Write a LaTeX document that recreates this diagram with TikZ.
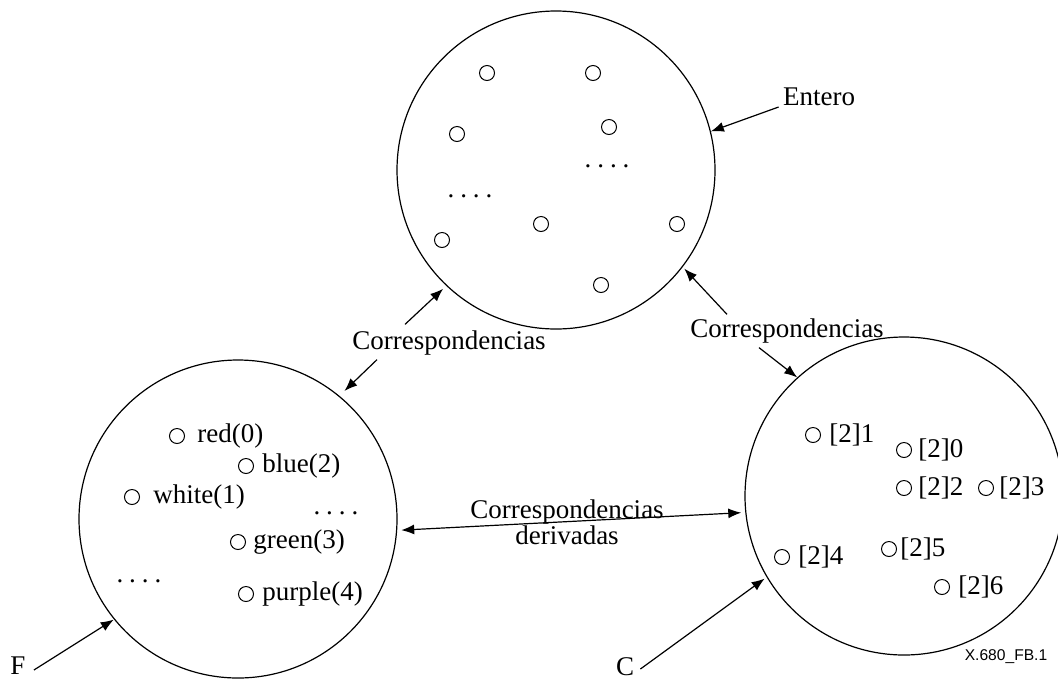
\documentclass[tikz,border=0pt]{standalone}
\usepackage{fontspec}
\setmainfont{Liberation Serif}
\newfontfamily\tagfont{Liberation Sans}
\usetikzlibrary{arrows.meta, positioning}
\tikzset{
    setcircle/.style = {circle, draw, line width=0.6pt, inner sep=0pt, minimum size=159pt},
    elem/.style = {circle, draw, line width=0.5pt, inner sep=0pt, minimum size=7.5pt},
    elemtext/.style = {anchor=west, inner sep=0pt, font=\fontsize{13.5}{12}\selectfont},
    lbl/.style = {inner sep=1pt, font=\fontsize{13.5}{12}\selectfont, align=center},
    dots/.style = {inner sep=0pt, font=\fontsize{13.5}{12}\selectfont},
    arr/.style = {draw, line width=0.6pt, -{Latex[length=6.5pt,width=5pt]}},
    darr/.style = {draw, line width=0.6pt, {Latex[length=6.5pt,width=5pt]}-{Latex[length=6.5pt,width=5pt]}}
}
\begin{document}
\begin{tikzpicture}[x=0.5pt, y=-0.5pt]
        \useasboundingbox (0,0) rectangle (1058,681);
        % Sets
        \node [setcircle] (entero) at (556,170) {};
        \node [setcircle] (fset) at (238,519) {};
        \node [setcircle] (cset) at (904,496) {};

        % Elements of Entero
        \foreach \x/\y [count=\i] in {487/73, 593/73, 457/134, 609/127, 541/224, 677/224, 442/240, 601/285}
            \node [elem] (e\i) at (\x,\y) {};
        \node [dots] (edotsA) at (607,166) {.\hspace{3pt}.\hspace{3pt}.\hspace{3pt}.};
        \node [dots] (edotsB) at (470,196) {.\hspace{3pt}.\hspace{3pt}.\hspace{3pt}.};

        % Elements of F
        \foreach \x/\y/\tx/\t [count=\i] in {177/436/197/red(0), 246/466/262/blue(2), 132/497/153/white(1), 238/542/253/green(3), 246/594/262/purple(4)} {
            \node [elem] (f\i) at (\x,\y) {};
            \node [elemtext] (ft\i) at (\tx,\y) {\t};
        }
        \node [dots] (fdotsA) at (336,513) {.\hspace{3pt}.\hspace{3pt}.\hspace{3pt}.};
        \node [dots] (fdotsB) at (139,581) {.\hspace{3pt}.\hspace{3pt}.\hspace{3pt}.};

        % Elements of C
        \foreach \x/\y/\tx/\t [count=\i] in {813/435/829/{[2]1}, 904/450/918/{[2]0}, 904/488/918/{[2]2}, 986/488/999/{[2]3}, 889/549/900/{[2]5}, 782/557/798/{[2]4}, 942/587/958/{[2]6}} {
            \node [elem] (c\i) at (\x,\y) {};
            \node [elemtext] (ct\i) at (\tx,\y) {\t};
        }

        % Labels
        \node [lbl] (lentero) at (819,97) {Entero};
        \node [lbl] (corrL) at (449,343) {Correspondencias};
        \node [lbl] (corrR) at (787,331) {Correspondencias};
        \node [lbl] (corrD) at (567,522) {Correspondencias\\derivadas};
        \node [lbl] (lf) at (18,666) {F};
        \node [lbl] (lc) at (625,667) {C};
        \node [inner sep=0pt, font=\tagfont\fontsize{7.8}{9}\selectfont] (tag) at (1006,657) {X.680\_FB.1};

        % Edges
        \path [arr] ([xshift=-1pt,yshift=-5pt]lentero.west) -- (entero.14);
        \path [arr] ([xshift=-22pt,yshift=2pt]corrL.north) -- ([shift={(-2pt,-1pt)}]entero.-133);
        \path [arr] ([xshift=-36pt,yshift=-1pt]corrL.south) -- ([shift={(3pt,2pt)}]fset.51);
        \path [arr] ([xshift=-30pt,yshift=1pt]corrR.north) -- ([shift={(3pt,2pt)}]entero.-40);
        \path [arr] ([xshift=-14pt,yshift=-1pt]corrR.south) -- (cset.132);
        \path [darr] ([xshift=2pt]fset.-4) -- ([xshift=-2pt]cset.-174);
        \path [arr] ([xshift=3pt,yshift=-2pt]lf.east) -- ([shift={(-1pt,1pt)}]fset.220);
        \path [arr] ([xshift=2pt,yshift=-1pt]lc.east) -- ([shift={(-2pt,1pt)}]cset.212);
    \end{tikzpicture}
\end{document}
